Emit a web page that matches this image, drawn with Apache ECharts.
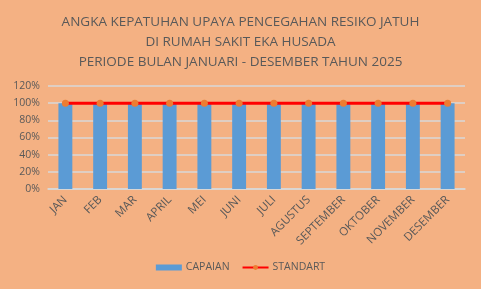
<!DOCTYPE html>
<html><head><meta charset="utf-8">
<script src="https://cdn.jsdelivr.net/npm/echarts@6/dist/echarts.min.js"></script>
<style>html,body{margin:0;padding:0;background:#F4B183;}#c{width:481px;height:289px;}</style>
</head><body><div id="c"></div>
<script>
const titleLines = ["ANGKA KEPATUHAN UPAYA PENCEGAHAN RESIKO JATUH","DI RUMAH SAKIT EKA HUSADA","PERIODE BULAN JANUARI - DESEMBER TAHUN 2025"];
const categories = ["JAN","FEB","MAR","APRIL","MEI","JUNI","JULI","AGUSTUS","SEPTEMBER","OKTOBER","NOVEMBER","DESEMBER"];
const capaian = [100,100,100,100,100,100,100,100,100,100,100,100];
const standart = [100,100,100,100,100,100,100,100,100,100,100,100];
const seriesNames = ["CAPAIAN","STANDART"];
const chart = echarts.init(document.getElementById('c'));
chart.setOption({
  backgroundColor:'#F4B183',
  animation:false,
  textStyle:{fontFamily:'Open Sans'},
  title:{text:titleLines.join('\n'),left:'center',top:7,textStyle:{color:'#595959',fontSize:13.5,fontWeight:'normal',lineHeight:20,fontFamily:'Open Sans'}},
  grid:{left:48,right:16,top:86,bottom:100},
  legend:{bottom:11,left:'center',itemWidth:26,itemHeight:6,itemGap:12,textStyle:{color:'#595959',fontSize:10.5,padding:[0,0,0,-1]},
    data:[{name:seriesNames[0],icon:'rect'},{name:seriesNames[1]}]},
  xAxis:{type:'category',data:categories,axisTick:{show:false},axisLine:{lineStyle:{color:'#d9d9d9',width:1.5}},
    axisLabel:{rotate:45,color:'#595959',fontSize:11.5,interval:0,margin:9}},
  yAxis:{type:'value',min:0,max:120,interval:20,axisLine:{show:false},axisTick:{show:false},
    axisLabel:{formatter:'{value}%',color:'#595959',fontSize:10.5,margin:8},
    splitLine:{lineStyle:{color:'#d9d9d9',width:1.5}}},
  series:[
    {name:seriesNames[0],type:'bar',data:capaian,barWidth:'40%',itemStyle:{color:'#5B9BD5'}},
    {name:seriesNames[1],type:'line',data:standart,symbol:'circle',symbolSize:7,
      lineStyle:{color:'#FF0000',width:3},itemStyle:{color:'#ED7D31'}}
  ]
});
</script></body></html>
